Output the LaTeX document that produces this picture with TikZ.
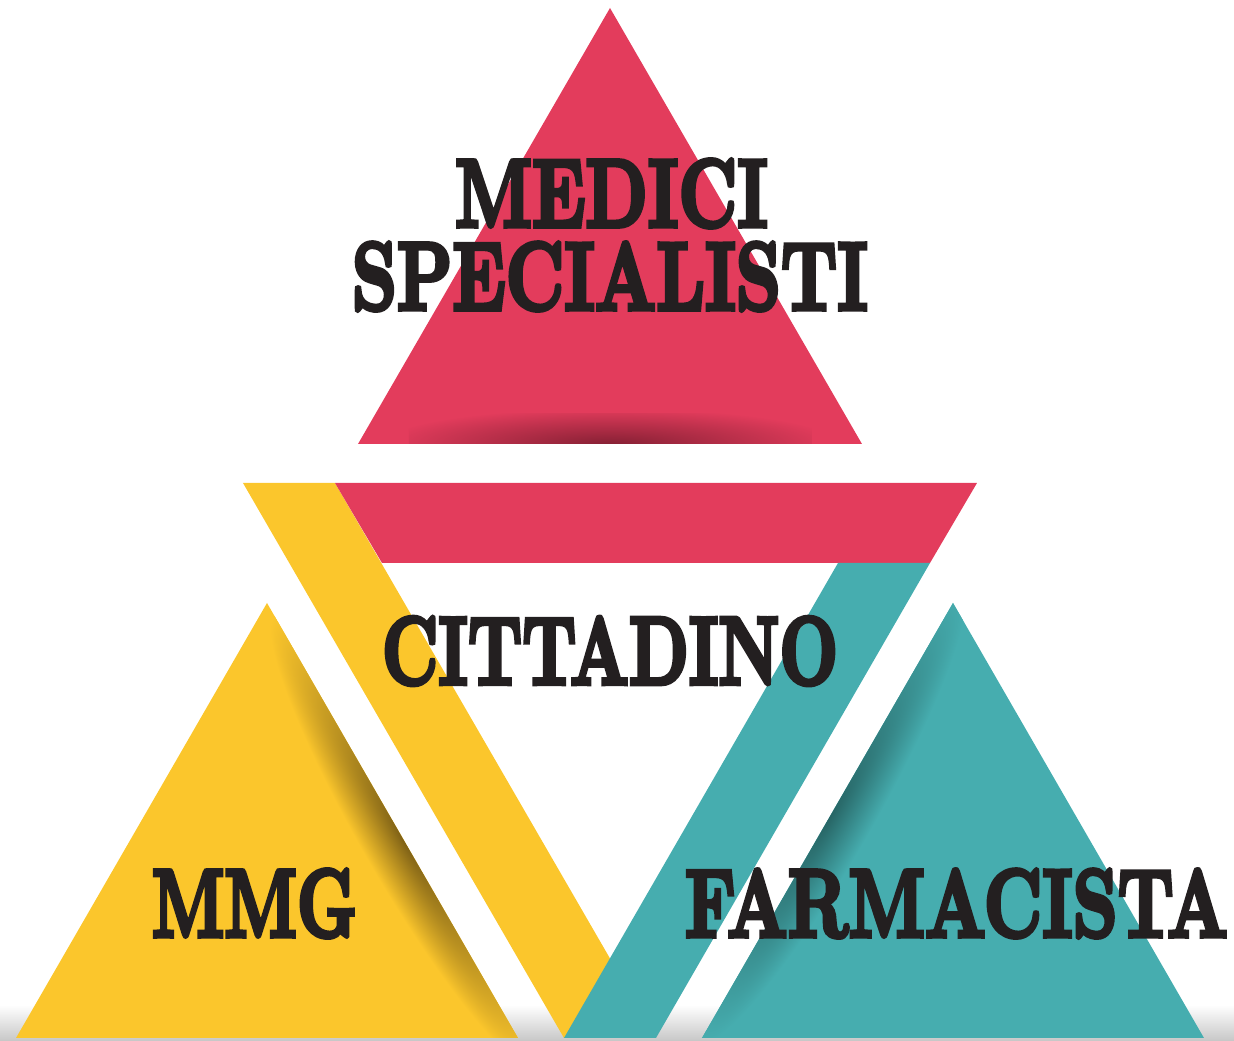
\documentclass[tikz,border=0pt]{standalone}
\usepackage{graphicx}
\usepackage{fontspec}
\newfontfamily\grosso[Extension=.otf, FakeBold=5]{lmroman10-bold}

\definecolor{rosso}{HTML}{E33C5C}
\definecolor{rossoscuro}{HTML}{862034}
\definecolor{giallo}{HTML}{FBC62C}
\definecolor{giallosc}{HTML}{7C5F16}
\definecolor{verde}{HTML}{46ADAF}
\definecolor{verdesc}{HTML}{276565}
\definecolor{inchiostro}{HTML}{231F20}

% testo nero condensato, altezza fissa
\newcommand{\scritta}[2]{\resizebox{#1}{0.67cm}{\grosso #2}}

\begin{document}
\begin{tikzpicture}[
    pannello/.style={
        fill=#1,
        draw=none
    },
    etichetta/.style={
        inner sep=0pt,
        text=inchiostro,
        anchor=center
    }
]
\useasboundingbox (0,0) rectangle (12.34,10.41);

% Ombra a terra
\shade[top color=white, bottom color=black!22] (0,0) rectangle (12.34,0.36);

% Medici specialisti
\fill[pannello=rosso] (6.10,10.33) -- (8.62,5.97) -- (3.58,5.97) -- cycle;
\begin{scope}
    \clip (4.09,5.97) rectangle (8.12,6.27);
    \shade[inner color=rossoscuro, outer color=rosso] (6.10,5.97) ellipse (2.3 and 0.36);
\end{scope}

% Cornice del cittadino
\fill[pannello=giallo] (2.43,5.58) -- (3.35,5.58) -- (6.56,0.03) -- (5.64,0.03) -- cycle;
\fill[pannello=rosso] (3.35,5.58) -- (9.77,5.58) -- (9.30,4.78) -- (3.82,4.78) -- cycle;
\fill[pannello=verde] (8.38,4.78) -- (9.30,4.78) -- (6.56,0.03) -- (5.64,0.03) -- cycle;

% MMG
\fill[pannello=giallo] (2.67,4.38) -- (5.18,0.03) -- (0.16,0.03) -- cycle;
\begin{scope}
    \clip (2.67,4.38) -- (5.18,0.03) -- (0.16,0.03) -- cycle;
    \begin{scope}[transform canvas={rotate around={-60:(4.05,2.00)}}]
        \shade[inner color=giallosc, outer color=giallo] (4.05,2.00) ellipse (2.6 and 0.42);
    \end{scope}
\end{scope}

% Farmacista
\fill[pannello=verde] (9.53,4.38) -- (12.04,0.03) -- (7.02,0.03) -- cycle;
\begin{scope}
    \clip (9.53,4.38) -- (12.04,0.03) -- (7.02,0.03) -- cycle;
    \begin{scope}[transform canvas={rotate around={60:(8.30,2.25)}}]
        \shade[inner color=verdesc, outer color=verde] (8.30,2.25) ellipse (2.6 and 0.42);
    \end{scope}
\end{scope}

% Scritte
\node[etichetta] (medici) at (6.115,8.475) {\scritta{3.13cm}{MEDICI}};
\node[etichetta] (specialisti) at (6.10,7.645) {\scritta{5.16cm}{SPECIALISTI}};
\node[etichetta] (cittadino) at (6.10,3.90) {\scritta{4.56cm}{CITTADINO}};
\node[etichetta] (mmg) at (2.545,1.375) {\scritta{2.05cm}{MMG}};
\node[etichetta] (farmacista) at (9.565,1.375) {\scritta{5.43cm}{FARMACISTA}};

\end{tikzpicture}
\end{document}
